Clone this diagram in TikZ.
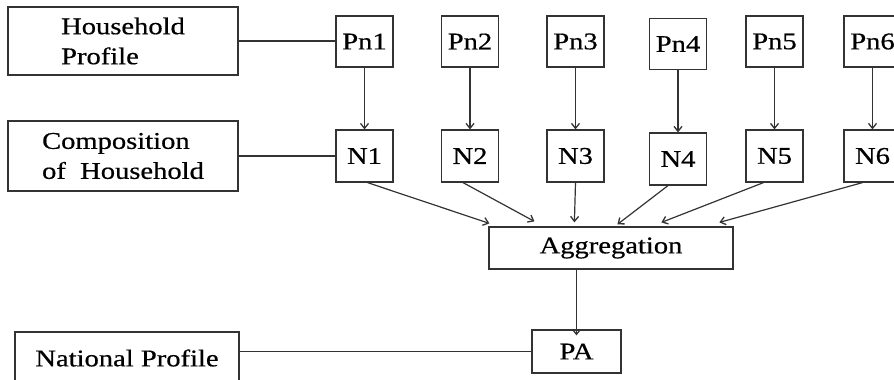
\documentclass[tikz,border=0pt]{standalone}
\usepackage{fontspec}
\setmainfont{Liberation Serif}[FakeBold=0.5]
\usetikzlibrary{arrows.meta,calc}
\newcommand\sx[1]{\scalebox{1.19}[1]{#1}}
\begin{document}
\begin{tikzpicture}[x=1pt,y=-1pt,
  every node/.style={font=\fontsize{24}{30}\selectfont},
  box/.style={draw=black!80,line width=1.2pt,inner sep=0pt,align=left},
  small/.style={box,minimum width=57pt,minimum height=51pt},
  link/.style={draw=black!80,line width=1.2pt},
  arr/.style={link,-{Straight Barb[length=5pt,width=8pt,line width=1.3pt]}}]
\useasboundingbox (0,0) rectangle (894,380);
% left label boxes
\node[box,minimum width=230pt,minimum height=68pt] (HP) at (123,41) {\sx{Household}\\\sx{Profile}};
\node[box,minimum width=230pt,minimum height=70pt] (CH) at (123,156) {\sx{Composition}\\\sx{of\ \ Household}};
\node[box,minimum width=224pt,minimum height=52pt] (NP) at (127,358) {\sx{National Profile}};
% Pn row
\node[small] (P1) at (364.5,41.5) {\sx{Pn1}};
\node[small] (P2) at (470,41.5) {\sx{Pn2}};
\node[small] (P3) at (575.5,41.5) {\sx{Pn3}};
\node[small] (P4) at (678,44) {\sx{Pn4}};
\node[small] (P5) at (774.5,41.5) {\sx{Pn5}};
\node[small] (P6) at (872.5,41.5) {\sx{Pn6}};
% N row
\node[small,minimum height=52pt] (N1) at (364.5,156) {\sx{N1}};
\node[small,minimum height=52pt] (N2) at (470,156) {\sx{N2}};
\node[small,minimum height=52pt] (N3) at (575.5,156) {\sx{N3}};
\node[small,minimum height=52pt] (N4) at (678,159) {\sx{N4}};
\node[small,minimum height=52pt] (N5) at (774.5,156) {\sx{N5}};
\node[small,minimum height=52pt] (N6) at (872.5,156) {\sx{N6}};
% aggregation and PA
\node[box,minimum width=244pt,minimum height=42pt] (AG) at (611,248) {\sx{Aggregation}};
\node[box,minimum width=89pt,minimum height=43pt] (PA) at (576.5,351.5) {\sx{PA}};
% plain links
\draw[link] (HP.east) -- (HP.east -| P1.west);
\draw[link] (CH.east |- N1.west) -- (N1.west);
\draw[link] (PA.west -| NP.east) -- (PA.west);
% Pn -> N
\foreach \i in {1,...,6} \draw[arr] (P\i.south) -- (N\i.north);
% N -> Aggregation
\coordinate (A1) at ($(AG.north west)+(1,-3)$);
\coordinate (A2) at ($(AG.north west)+(46,-5)$);
\coordinate (A3) at ($(AG.north west)+(86,-4)$);
\coordinate (A4) at ($(AG.north west)+(129,-2)$);
\coordinate (A5) at ($(AG.north west)+(173,-4)$);
\coordinate (A6) at ($(AG.north west)+(231,-4)$);
\draw[arr] ([xshift=3pt]N1.south) -- (A1);
\draw[arr] ([xshift=-7pt]N2.south) -- (A2);
\draw[arr] (N3.south) -- (A3);
\draw[arr] ([xshift=-10pt]N4.south) -- (A4);
\draw[arr] ([xshift=-11pt]N5.south) -- (A5);
\draw[arr] ([xshift=-10pt]N6.south) -- (A6);
% Aggregation -> PA
\draw[arr] (PA.north |- AG.south) -- ([yshift=-6pt]PA.north);
\end{tikzpicture}
\end{document}
